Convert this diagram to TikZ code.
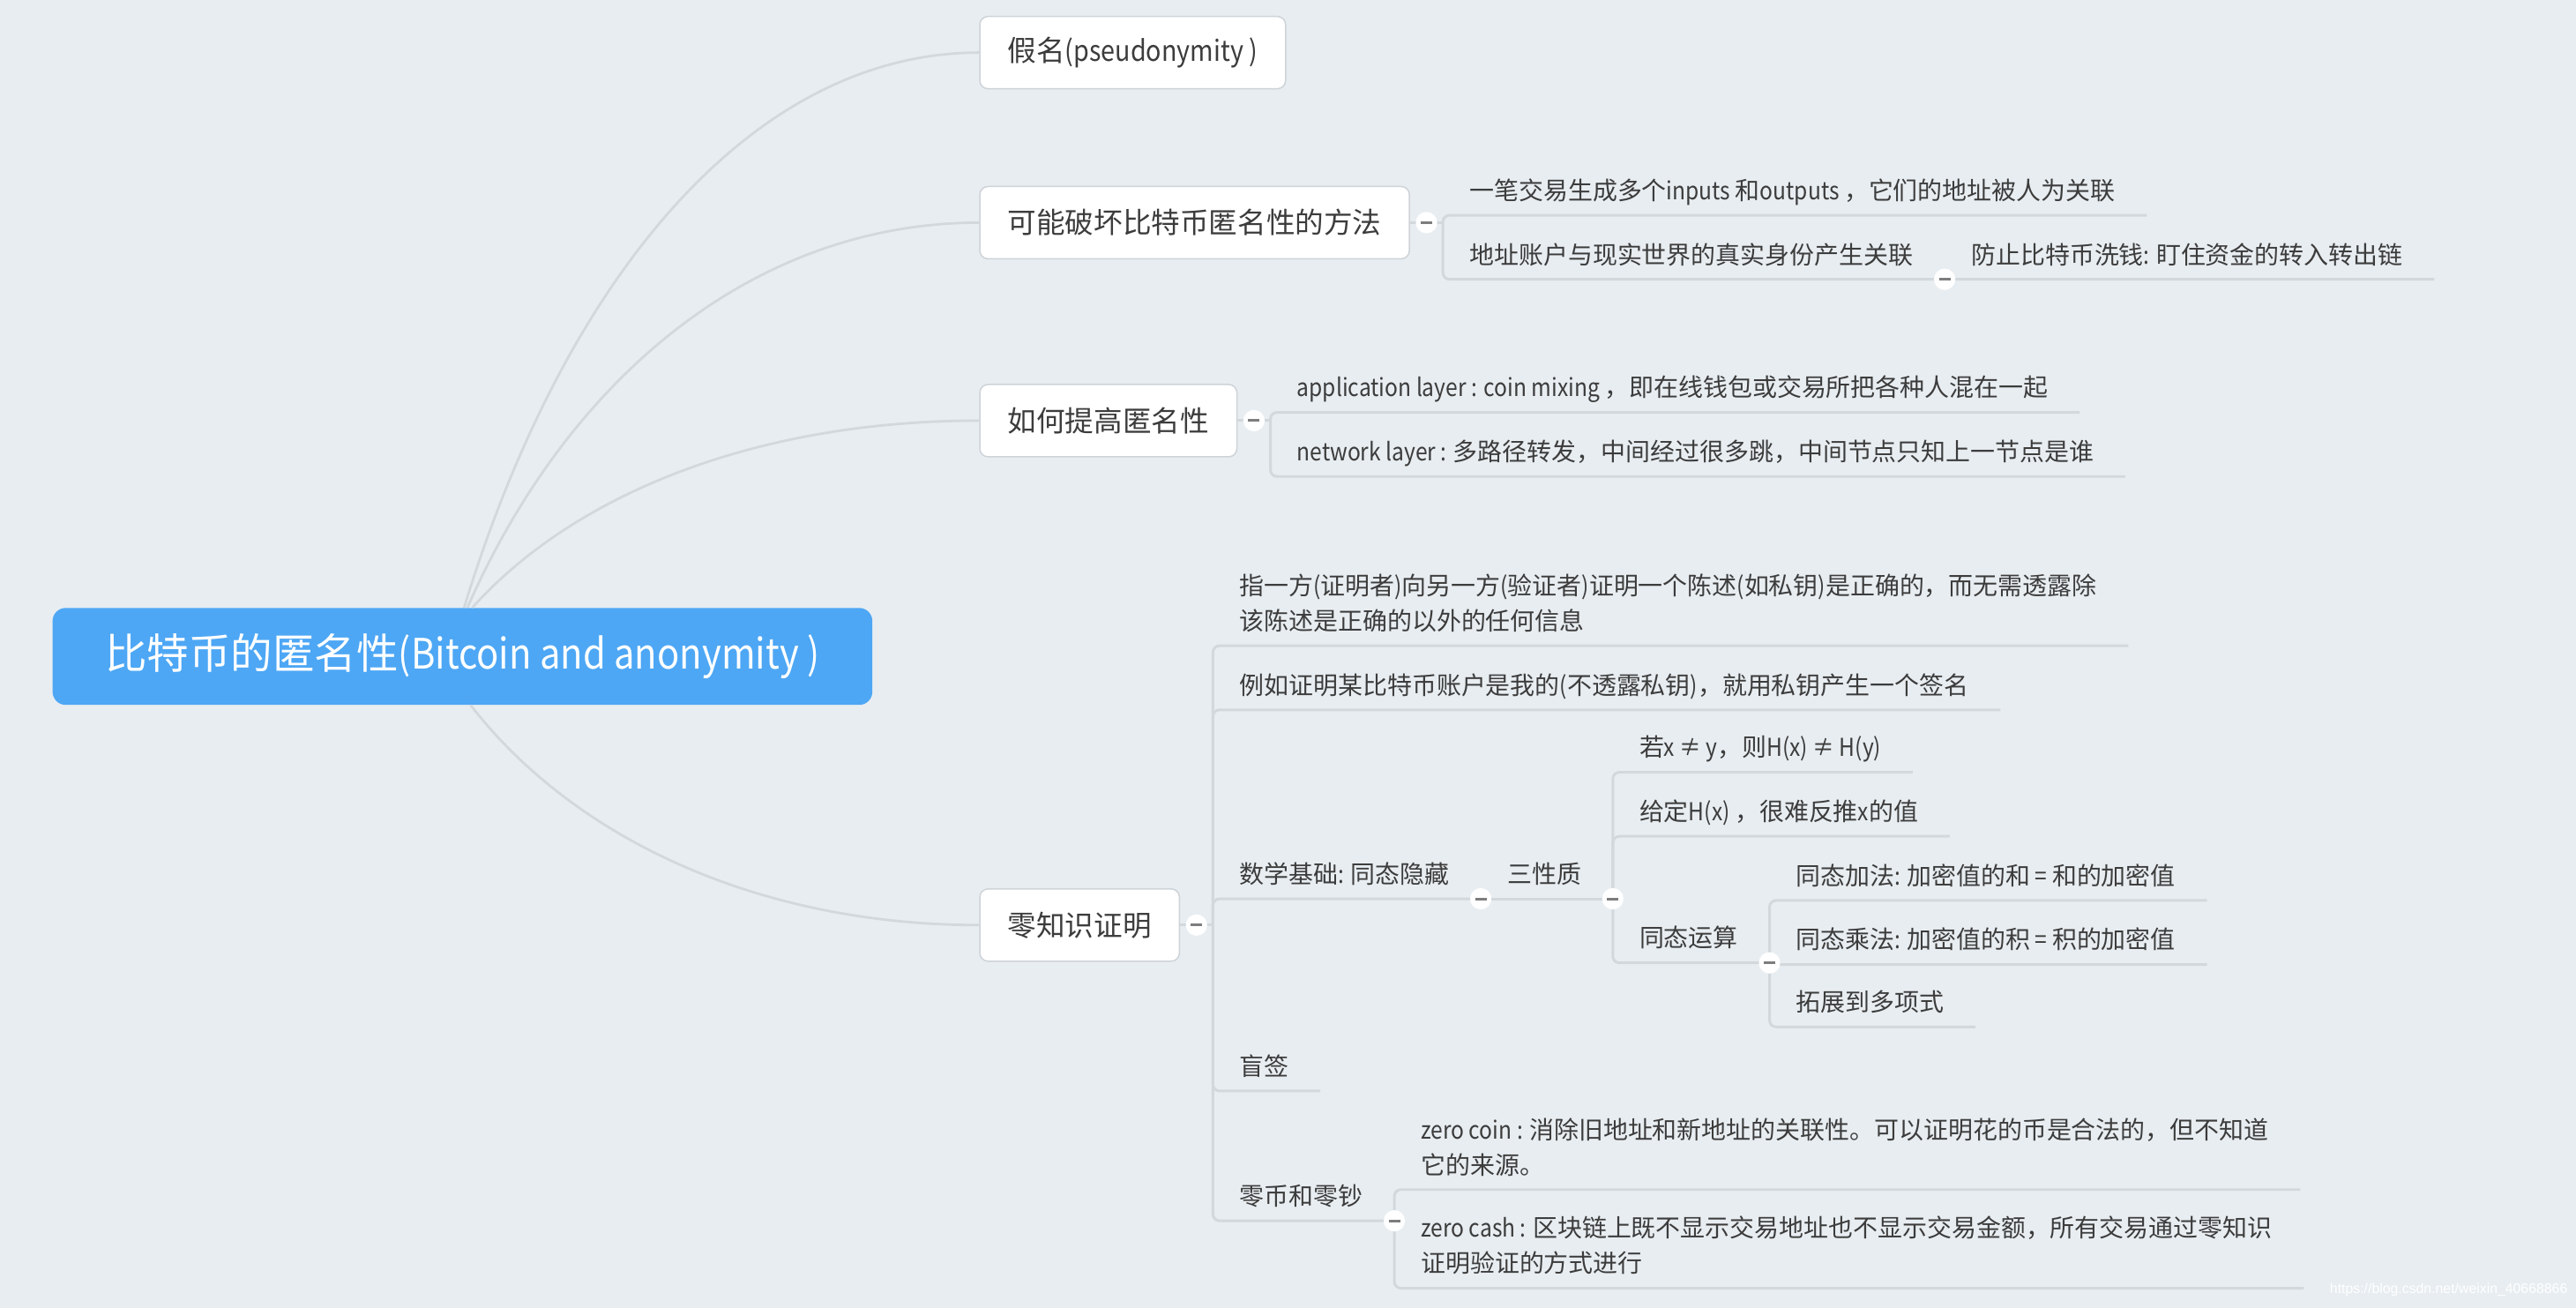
\documentclass[tikz,border=0pt]{standalone}
\usepackage{fontspec}
\setmainfont{Noto Sans CJK SC}
\newfontfamily\lat[FakeStretch=0.88]{Noto Sans CJK SC}
\newfontfamily\markfont{Liberation Sans}
\definecolor{paper}{RGB}{232,237,241}
\definecolor{rootblue}{RGB}{77,167,245}
\definecolor{ink}{RGB}{60,60,60}
\definecolor{wire}{RGB}{211,216,221}
\definecolor{frame}{RGB}{206,211,216}
\definecolor{foldmark}{RGB}{125,125,125}
\tikzset{
  rootbox/.style={fill=rootblue, rounded corners=8pt, text=white, minimum width=499pt, minimum height=59pt, font=\fontsize{25.5}{30}\selectfont},
  topic/.style={anchor=west, fill=white, draw=frame, line width=0.8pt, rounded corners=5pt, text=ink, inner xsep=17pt, minimum height=44pt, font=\fontsize{17.5}{22}\selectfont},
  leaf/.style={anchor=south west, align=left, text=ink, inner xsep=16pt, inner ysep=5.3pt, text depth=4pt, font=\fontsize{15}{21.5}\selectfont, execute at end node=\hspace*{3pt}},
  branch/.style={draw=wire, line width=1.5pt},
  link/.style={draw=wire, line width=1.6pt, rounded corners=4pt},
  fold/.style={circle, fill=white, inner sep=0pt, minimum size=13pt,
    path picture={\draw[foldmark, line width=1.6pt] ([xshift=-3.5pt]path picture bounding box.center) -- ([xshift=3.5pt]path picture bounding box.center);}}
}
\begin{document}
\begin{tikzpicture}[x=1pt, y=-1pt]
	\fill[paper] (0,0) rectangle (1568,796);
	\useasboundingbox (0,0) rectangle (1568,796);

	\node[rootbox] (root) at (281.5,399.5) {比特币的匿名性{\lat (Bitcoin and anonymity )}};
	\node[topic] (pseu) at (596,32) {假名{\lat (pseudonymity )}};
	\node[topic] (brk) at (596,135.5) {可能破坏比特币匿名性的方法};
	\node[topic] (impr) at (596,256) {如何提高匿名性};
	\node[topic] (zkp) at (596,563) {零知识证明};

	\draw[branch] ([xshift=1pt]root.north) .. controls +(62,-203) and +(-137,0) .. (pseu.west);
	\draw[branch] ([xshift=3pt]root.north) .. controls +(62,-141) and +(-136,0) .. (brk.west);
	\draw[branch] ([xshift=6pt]root.north) .. controls +(62,-69) and +(-136,0) .. (impr.west);
	\draw[branch] ([xshift=5pt]root.south) .. controls +(62,80) and +(-136,0) .. (zkp.west);

	\foreach \t in {brk, impr, zkp} {
		\coordinate (\t c) at ([xshift=10pt]\t.east);
		\coordinate (\t b) at ([xshift=20pt]\t.east);
		\draw[link] (\t.east) -- (\t c) -- (\t b);
	}

	\node[leaf] (b2a) at (brkb |- 0,131) {一笔交易生成多个{\lat inputs }和{\lat outputs }，它们的地址被人为关联};
	\node[leaf] (b2b) at (brkb |- 0,170) {地址账户与现实世界的真实身份产生关联};
	\node[leaf] (b2c) at (b2b.south east) {防止比特币洗钱{\lat : }盯住资金的转入转出链};
	\draw[link] (brkb) |- (b2a.south east);
	\draw[link] (brkb) |- (b2b.south east) -- (b2c.south east);

	\node[leaf] (b3a) at (imprb |- 0,251) {{\lat application layer : coin mixing }，即在线钱包或交易所把各种人混在一起};
	\node[leaf] (b3b) at (imprb |- 0,290) {{\lat network layer : }多路径转发，中间经过很多跳，中间节点只知上一节点是谁};
	\draw[link] (imprb) |- (b3a.south east);
	\draw[link] (imprb) |- (b3b.south east);

	\node[leaf] (z1) at (zkpb |- 0,393) {指一方{\lat (}证明者{\lat )}向另一方{\lat (}验证者{\lat )}证明一个陈述{\lat (}如私钥{\lat )}是正确的，而无需透露除\\该陈述是正确的以外的任何信息};
	\node[leaf] (z2) at (zkpb |- 0,432) {例如证明某比特币账户是我的{\lat (}不透露私钥{\lat )}，就用私钥产生一个签名};
	\node[leaf] (z3) at (zkpb |- 0,547) {数学基础{\lat : }同态隐藏};
	\node[leaf] (z3a) at (z3.south east) {三性质};
	\node[leaf] (p1) at (z3a.south east |- 0,470) {若{\lat x ≠ y}，则{\lat H(x) ≠ H(y)}};
	\node[leaf] (p2) at (z3a.south east |- 0,509) {给定{\lat H(x) }，很难反推{\lat x}的值};
	\node[leaf] (p3) at (z3a.south east |- 0,586) {同态运算};
	\node[leaf] (q1) at (p3.south east |- 0,548) {同态加法{\lat : }加密值的和{\lat\ = }和的加密值};
	\node[leaf] (q2) at (p3.south east |- 0,587) {同态乘法{\lat : }加密值的积{\lat\ = }积的加密值};
	\node[leaf] (q3) at (p3.south east |- 0,625) {拓展到多项式};
	\node[leaf] (z4) at (zkpb |- 0,664) {盲签};
	\node[leaf] (z5) at (zkpb |- 0,743) {零币和零钞};
	\node[leaf] (r1) at (z5.south east |- 0,724) {{\lat zero coin : }消除旧地址和新地址的关联性。可以证明花的币是合法的，但不知道\\它的来源。};
	\node[leaf] (r2) at (z5.south east |- 0,784) {{\lat zero cash : }区块链上既不显示交易地址也不显示交易金额，所有交易通过零知识\\证明验证的方式进行};

	\foreach \n in {z1,z2,z3,z4,z5} \draw[link] (zkpb) |- (\n.south east);
	\draw[link] (z3.south east) -- (z3a.south east);
	\foreach \n in {p1,p2,p3} \draw[link] (z3a.south east) |- (\n.south east);
	\foreach \n in {q1,q2,q3} \draw[link] (p3.south east) |- (\n.south east);
	\foreach \n in {r1,r2} \draw[link] (z5.south east) |- (\n.south east);

	\foreach \f [count=\i] in {brkc, imprc, zkpc, b2b.south east, z3.south east, z3a.south east, p3.south east, z5.south east}
		\node[fold] (fold\i) at (\f) {};

	\node[anchor=east, inner sep=0pt, text=white, font=\markfont\fontsize{8.5}{10}\selectfont] (mark) at (1563,785) {https://blog.csdn.net/weixin\_40668866};
\end{tikzpicture}
\end{document}
